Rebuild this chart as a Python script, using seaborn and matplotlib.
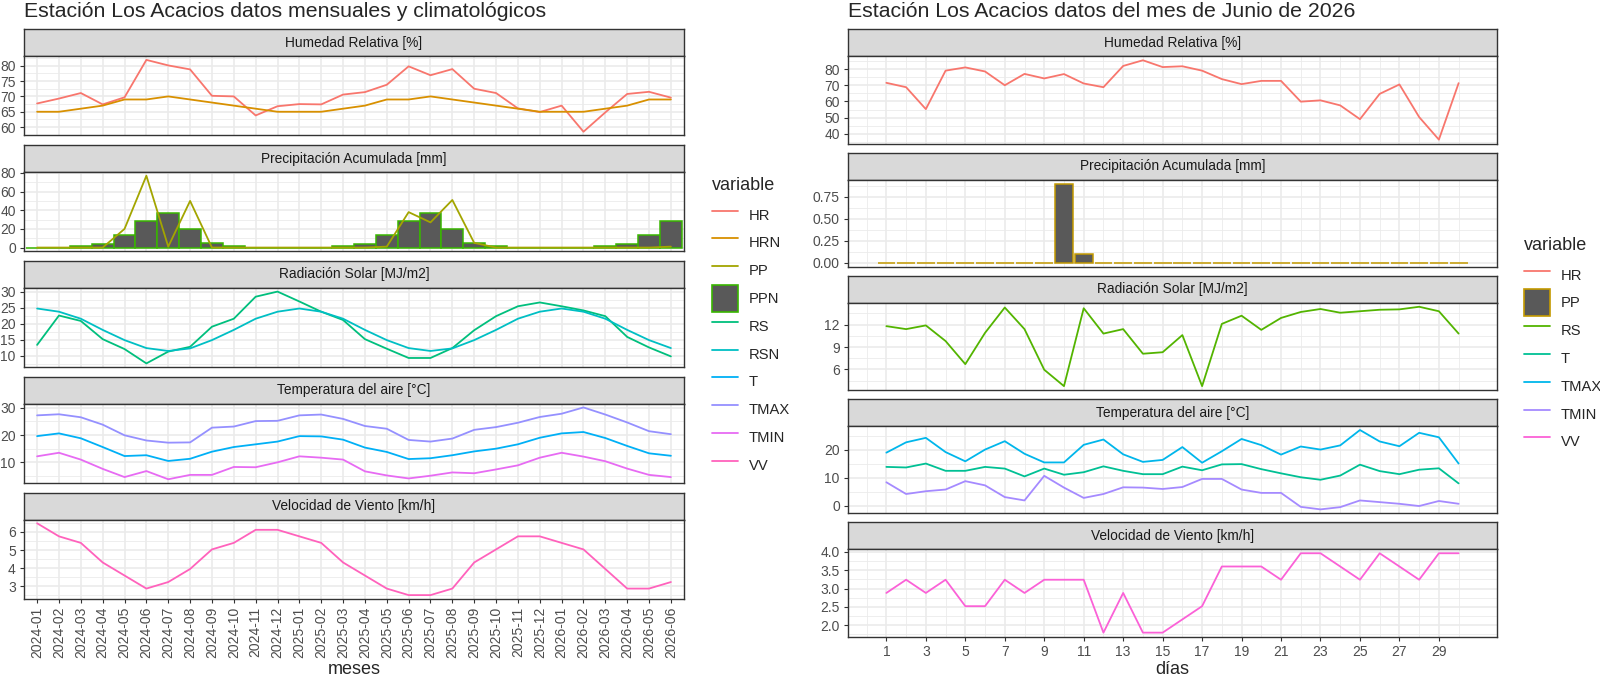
import numpy as np
import pandas as pd
import matplotlib
matplotlib.use("Agg")
import matplotlib.pyplot as plt
import seaborn as sns
from matplotlib.lines import Line2D
from matplotlib.patches import Patch
from matplotlib.ticker import MultipleLocator, FixedLocator

sns.set_theme(style="white")
plt.rcParams['font.family'] = ['Liberation Sans', 'DejaVu Sans']

# ---------------- data: monthly / climatological ----------------
meses = ["2024-01", "2024-02", "2024-03", "2024-04", "2024-05", "2024-06",
         "2024-07", "2024-08", "2024-09", "2024-10", "2024-11", "2024-12",
         "2025-01", "2025-02", "2025-03", "2025-04", "2025-05", "2025-06",
         "2025-07", "2025-08", "2025-09", "2025-10", "2025-11", "2025-12",
         "2026-01", "2026-02", "2026-03", "2026-04", "2026-05", "2026-06"]
HR_m = [67.7, 69.3, 71.1, 67.4, 69.7, 81.9, 80.1, 78.8, 70.2, 70.0, 63.8, 66.8,
        67.5, 67.4, 70.6, 71.4, 73.8, 79.8, 76.9, 78.9, 72.5, 71.1, 66.1, 64.9,
        67.0, 58.5, 64.8, 70.8, 71.5, 69.6]
HRN_m = [65, 65, 66, 67, 69, 69, 70, 69, 68, 67, 66, 65,
         65, 65, 66, 67, 69, 69, 70, 69, 68, 67, 66, 65,
         65, 65, 66, 67, 69, 69]
PP_m = [0, 0, 0, 0, 20, 77, 1, 50, 0, 0, 0, 0,
        0, 0, 0, 0, 1, 38, 27, 51, 5, 0, 0, 0,
        0, 0, 0, 0, 0, 1]
PPN_m = [0, 0, 1.5, 3.5, 13, 28, 37, 20, 5, 1.2, 0, 0,
         0, 0, 1.5, 3.5, 13, 28, 37, 20, 5, 1.2, 0, 0,
         0, 0, 1.5, 3.5, 13, 28]
RS_m = [13.4, 22.6, 20.9, 15.2, 12.1, 7.6, 11.3, 12.8, 19.1, 21.6, 28.5, 30.1,
        27.0, 23.8, 21.2, 15.2, 12.2, 9.3, 9.3, 12.4, 18.0, 22.4, 25.5, 26.7,
        25.5, 24.2, 22.4, 15.9, 12.6, 9.8]
RSN_m = [24.8, 23.8, 21.6, 18.1, 14.9, 12.4, 11.5, 12.3, 14.9, 18.1, 21.6, 23.8,
         24.8, 23.8, 21.6, 18.1, 14.9, 12.4, 11.5, 12.3, 14.9, 18.1, 21.6, 23.8,
         24.8, 23.8, 21.6, 18.1, 14.9, 12.4]
T_m = [19.6, 20.6, 18.8, 15.6, 12.3, 12.6, 10.5, 11.3, 13.9, 15.6, 16.6, 17.6,
       19.6, 19.5, 18.3, 15.4, 13.8, 11.2, 11.5, 12.6, 14.0, 15.0, 16.6, 19.0,
       20.6, 21.1, 18.9, 16.0, 13.3, 12.4]
TMAX_m = [27.2, 27.6, 26.5, 23.8, 19.9, 18.0, 17.2, 17.3, 22.7, 23.1, 25.1, 25.2,
          27.2, 27.5, 25.9, 23.3, 22.3, 18.2, 17.6, 18.7, 21.9, 22.9, 24.5, 26.6,
          27.8, 30.1, 27.5, 24.6, 21.4, 20.3]
TMIN_m = [12.2, 13.5, 11.0, 7.6, 4.6, 6.8, 3.8, 5.4, 5.4, 8.3, 8.2, 10.0,
          12.2, 11.7, 11.0, 6.7, 5.2, 4.1, 5.1, 6.3, 6.0, 7.4, 8.9, 11.7,
          13.5, 12.1, 10.4, 7.7, 5.4, 4.6]
VV_m = [6.48, 5.76, 5.40, 4.32, 3.60, 2.88, 3.24, 3.96, 5.04, 5.40, 6.12, 6.12,
        5.76, 5.40, 4.32, 3.60, 2.88, 2.52, 2.52, 2.88, 4.32, 5.04, 5.76, 5.76,
        5.40, 5.04, 3.96, 2.88, 2.88, 3.24]

# ---------------- data: daily, June 2026 ----------------
dias = [1, 2, 3, 4, 5, 6, 7, 8, 9, 10, 11, 12, 13, 14, 15,
        16, 17, 18, 19, 20, 21, 22, 23, 24, 25, 26, 27, 28, 29, 30]
HR_d = [71.5, 68.8, 55.3, 79.0, 81.0, 78.5, 70.0, 77.0, 74.2, 76.9, 71.1, 68.8,
        81.9, 85.4, 81.2, 81.7, 79.0, 73.8, 70.7, 72.7, 72.7, 59.9, 60.7, 57.6,
        49.1, 64.7, 70.5, 50.4, 36.5, 71.3]
PP_d = [0, 0, 0, 0, 0, 0, 0, 0, 0, 0.9, 0.1, 0, 0, 0, 0,
        0, 0, 0, 0, 0, 0, 0, 0, 0, 0, 0, 0, 0, 0, 0]
RS_d = [11.8, 11.4, 11.9, 9.8, 6.7, 10.9, 14.3, 11.4, 5.95, 3.75, 14.2, 10.8,
        11.4, 8.1, 8.3, 10.6, 3.75, 12.1, 13.2, 11.3, 12.9, 13.7, 14.1, 13.6,
        13.8, 14.0, 14.05, 14.4, 13.8, 10.8]
T_d = [13.9, 13.7, 15.1, 12.5, 12.5, 13.9, 13.3, 10.5, 13.3, 11.1, 12.0, 14.1,
       12.5, 11.3, 11.3, 14.0, 12.7, 14.8, 14.9, 13.1, 11.6, 10.2, 9.3, 10.8,
       14.7, 12.4, 11.3, 12.9, 13.4, 8.0]
TMAX_d = [19.0, 22.7, 24.3, 19.2, 15.9, 20.1, 23.1, 18.6, 15.5, 15.5, 21.8, 23.7,
          18.4, 15.7, 16.4, 21.0, 15.4, 19.5, 23.9, 21.7, 18.3, 21.2, 20.1, 21.6,
          27.1, 23.0, 21.3, 26.1, 24.5, 15.1]
TMIN_d = [8.4, 4.2, 5.2, 5.8, 8.8, 7.3, 3.1, 1.9, 10.7, 6.5, 2.8, 4.2,
          6.6, 6.5, 6.0, 6.7, 9.6, 9.6, 5.8, 4.6, 4.6, -0.4, -1.3, -0.5,
          1.9, 1.3, 0.7, -0.1, 1.7, 0.7]
VV_d = [2.88, 3.24, 2.88, 3.24, 2.52, 2.52, 3.24, 2.88, 3.24, 3.24, 3.24, 1.80,
        2.88, 1.80, 1.80, 2.16, 2.52, 3.60, 3.60, 3.60, 3.24, 3.96, 3.96, 3.60,
        3.24, 3.96, 3.60, 3.24, 3.96, 3.96]

facet_titles = ["Humedad Relativa [%]", "Precipitación Acumulada [mm]",
                "Radiación Solar [MJ/m2]", "Temperatura del aire [°C]",
                "Velocidad de Viento [km/h]"]

pal_left = {"HR": "#F8766D", "HRN": "#D89000", "PP": "#A3A500", "PPN": "#39B600",
            "RS": "#00BF7D", "RSN": "#00BFC4", "T": "#00B0F6", "TMAX": "#9590FF",
            "TMIN": "#E76BF3", "VV": "#FF62BC"}
pal_right = {"HR": "#F8766D", "PP": "#C49A00", "RS": "#53B400", "T": "#00C094",
             "TMAX": "#00B6EB", "TMIN": "#A58AFF", "VV": "#FB61D7"}

xm = list(range(len(meses)))
left_lines = [
    {"HR": HR_m, "HRN": HRN_m},
    {"PP": PP_m},
    {"RS": RS_m, "RSN": RSN_m},
    {"T": T_m, "TMAX": TMAX_m, "TMIN": TMIN_m},
    {"VV": VV_m},
]
right_lines = [
    {"HR": HR_d},
    {},
    {"RS": RS_d},
    {"T": T_d, "TMAX": TMAX_d, "TMIN": TMIN_d},
    {"VV": VV_d},
]
left_ticks = [([60, 65, 70, 75, 80], 2.5, "{:g}"),
              ([0, 20, 40, 60, 80], 10, "{:g}"),
              ([10, 15, 20, 25, 30], 2.5, "{:g}"),
              ([10, 20, 30], 5, "{:g}"),
              ([3, 4, 5, 6], 0.5, "{:g}")]
right_ticks = [([40, 50, 60, 70, 80], 5, "{:g}"),
               ([0, 0.25, 0.5, 0.75], 0.125, "{:.2f}"),
               ([6, 9, 12], 1.5, "{:g}"),
               ([0, 10, 20], 5, "{:g}"),
               ([2.0, 2.5, 3.0, 3.5, 4.0], 0.25, "{:.1f}")]

W, H = 1600, 676
fig = plt.figure(figsize=(W / 100, H / 100), dpi=100)

TICK_FS = 10.0
STRIP_FS = 9.9
LEG_FS = 10.6
GRID = "#EBEBEB"
DARK = "#333333"


def rect(x0, x1, top, bottom):
    return [x0 / W, 1 - bottom / H, (x1 - x0) / W, (bottom - top) / H]


def make_facet(x0, x1, top, strip_h, panel_h, title):
    sax = fig.add_axes(rect(x0, x1, top, top + strip_h))
    sax.set_facecolor("#D9D9D9")
    sax.set_xticks([]); sax.set_yticks([])
    for s in sax.spines.values():
        s.set_color(DARK); s.set_linewidth(1.0)
    sax.text(0.5, 0.5, title, ha="center", va="center", fontsize=STRIP_FS,
             color="#1A1A1A", transform=sax.transAxes)
    ax = fig.add_axes(rect(x0, x1, top + strip_h, top + strip_h + panel_h))
    ax.set_facecolor("white")
    for s in ax.spines.values():
        s.set_color(DARK); s.set_linewidth(1.0); s.set_visible(True)
    ax.set_axisbelow(True)
    ax.grid(which="major", color=GRID, lw=1.2)
    ax.grid(which="minor", color=GRID, lw=0.6)
    ax.tick_params(axis="both", which="major", length=2.9, width=0.8, color=DARK,
                   labelsize=TICK_FS, labelcolor="#4D4D4D", pad=3,
                   left=True, bottom=True)
    ax.tick_params(axis="both", which="minor", length=0)
    return ax


def set_y(ax, values, ticks, minor, fmt):
    lo, hi = min(values), max(values)
    pad = 0.05 * (hi - lo)
    ax.set_ylim(lo - pad, hi + pad)
    ax.set_yticks(ticks)
    ax.set_yticklabels([fmt.format(t) for t in ticks])
    ax.yaxis.set_minor_locator(MultipleLocator(minor))


def draw_lines(ax, x, series, pal):
    if not series:
        return
    df = pd.DataFrame({"x": list(x) * len(series),
                       "value": sum([list(v) for v in series.values()], []),
                       "variable": sum([[k] * len(x) for k in series], [])})
    sns.lineplot(data=df, x="x", y="value", hue="variable", palette=pal,
                 ax=ax, legend=False, lw=1.3, errorbar=None, sort=False)
    ax.set_xlabel(""); ax.set_ylabel("")


# ---------------- left block ----------------
L_X0, L_X1 = 24, 684
for k in range(5):
    top = 29.3 + k * 115.85
    ax = make_facet(L_X0, L_X1, top, 27, 79, facet_titles[k])
    vals = []
    if k == 1:
        ax.bar(xm, PPN_m, width=1.0, color="#595959", edgecolor=pal_left["PPN"],
               linewidth=1.1, zorder=2)
        vals += PPN_m
    draw_lines(ax, xm, left_lines[k], pal_left)
    for v in left_lines[k].values():
        vals += list(v)
    set_y(ax, vals, *left_ticks[k])
    ax.set_xlim(-0.6, 29.6)
    ax.set_xticks(xm)
    if k == 4:
        ax.set_xticklabels(meses, rotation=90)
    else:
        ax.tick_params(axis="x", length=0, labelbottom=False)

fig.text((L_X0 + L_X1) / 2 / W, 1 - 670 / H, "meses", ha="center", va="center",
         fontsize=13)
fig.text(L_X0 / W, 1 - 17 / H, "Estación Los Acacios datos mensuales y climatológicos",
         ha="left", va="baseline", fontsize=15.3)

# ---------------- right block ----------------
R_X0, R_X1 = 848, 1497
for k in range(5):
    top = 29.3 + k * 123.25
    ax = make_facet(R_X0, R_X1, top, 27, 87.3, facet_titles[k])
    vals = []
    if k == 1:
        ax.bar(dias, PP_d, width=0.9, color="#595959", edgecolor=pal_right["PP"],
               linewidth=1.1, zorder=2)
        vals += PP_d
    draw_lines(ax, dias, right_lines[k], pal_right)
    for v in right_lines[k].values():
        vals += list(v)
    set_y(ax, vals, *right_ticks[k])
    ax.set_xlim(-0.945, 31.945)
    ax.set_xticks(dias[::2])
    ax.xaxis.set_minor_locator(FixedLocator(list(range(0, 32, 2))))
    if k == 4:
        ax.set_xticklabels([str(d) for d in dias[::2]])
    else:
        ax.tick_params(axis="x", length=0, labelbottom=False)

fig.text((R_X0 + R_X1) / 2 / W, 1 - 670 / H, "días", ha="center", va="center",
         fontsize=13)
fig.text(R_X0 / W, 1 - 17 / H, "Estación Los Acacios datos del mes de Junio de 2026",
         ha="left", va="baseline", fontsize=15.3)

# ---------------- legends ----------------
def legend(pal, bar_key, x, y):
    handles = []
    for name, col in pal.items():
        if name == bar_key:
            handles.append(Patch(facecolor="#595959", edgecolor=col, linewidth=1.2))
        else:
            handles.append(Line2D([], [], color=col, lw=1.3))
    leg = fig.legend(handles, list(pal.keys()), loc="upper left",
                     bbox_to_anchor=(x / W, 1 - y / H), frameon=False,
                     title="variable", title_fontsize=13, fontsize=LEG_FS,
                     handlelength=1.75, handleheight=2.42, labelspacing=0.07,
                     handletextpad=0.75, borderaxespad=0, borderpad=0,
                     alignment="left")
    leg._legend_box.sep = 5.5

legend(pal_left, "PPN", 712, 177)
legend(pal_right, "PP", 1524, 237)

fig.savefig("out.png", dpi=100)
